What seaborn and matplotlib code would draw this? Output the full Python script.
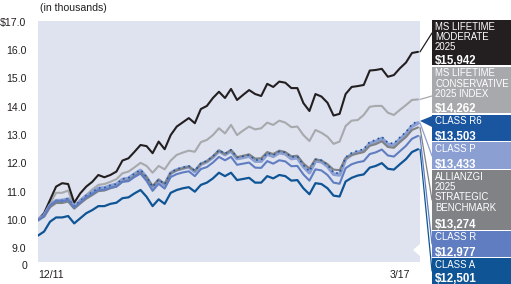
import matplotlib
matplotlib.use("Agg")
import matplotlib.pyplot as plt
import matplotlib.transforms as mtrans
import seaborn as sns
import pandas as pd
from matplotlib.patches import Rectangle, Polygon
from matplotlib.lines import Line2D

# ---------------- data (in thousands of $) ----------------
months = list(range(64))  # 12/11 ... 3/17, monthly
x_tick_labels = ["12/11", "3/17"]

ms_moderate = [10.00, 10.24, 10.71, 11.18, 11.30, 11.27, 10.61, 10.94, 11.18, 11.35,
               11.59, 11.51, 11.59, 11.71, 12.10, 12.18, 12.41, 12.65, 12.61, 12.36,
               12.77, 12.50, 13.00, 13.30, 13.45, 13.60, 13.42, 13.92, 14.03, 14.31,
               14.53, 14.31, 14.63, 14.24, 14.42, 14.59, 14.45, 14.38, 14.81, 14.70,
               14.89, 14.85, 14.66, 14.66, 14.13, 13.85, 14.45, 14.36, 14.14, 13.69,
               13.75, 14.45, 14.70, 14.73, 14.77, 15.28, 15.30, 15.34, 15.06, 15.12,
               15.36, 15.56, 15.90, 15.94]
ms_conservative = [10.00, 10.18, 10.59, 10.96, 10.96, 11.04, 10.45, 10.71, 10.88, 11.08,
                   11.24, 11.27, 11.35, 11.44, 11.65, 11.71, 11.86, 12.02, 11.91, 11.67,
                   11.91, 11.79, 12.10, 12.30, 12.38, 12.45, 12.41, 12.75, 12.83, 13.00,
                   13.24, 13.06, 13.36, 13.00, 13.16, 13.30, 13.20, 13.24, 13.44, 13.36,
                   13.51, 13.44, 13.28, 13.30, 13.00, 12.79, 13.18, 13.08, 12.94, 12.69,
                   12.77, 13.32, 13.51, 13.53, 13.71, 14.00, 14.03, 14.03, 13.79, 13.71,
                   13.89, 14.06, 14.24, 14.26]
class_r6 = [10.00, 10.15, 10.52, 10.68, 10.69, 10.75, 10.48, 10.67, 10.86, 10.98,
            11.13, 11.14, 11.22, 11.27, 11.45, 11.49, 11.64, 11.77, 11.52, 11.17,
            11.43, 11.26, 11.68, 11.80, 11.86, 11.91, 11.74, 12.00, 12.09, 12.25,
            12.47, 12.34, 12.48, 12.21, 12.25, 12.30, 12.12, 12.12, 12.37, 12.29,
            12.42, 12.39, 12.22, 12.25, 11.94, 11.72, 12.14, 12.11, 11.95, 11.67,
            11.65, 12.22, 12.37, 12.45, 12.50, 12.76, 12.83, 12.94, 12.73, 12.70,
            12.92, 13.11, 13.38, 13.50]
class_p = [10.00, 10.15, 10.52, 10.68, 10.69, 10.74, 10.47, 10.66, 10.85, 10.97,
           11.12, 11.13, 11.21, 11.26, 11.43, 11.47, 11.62, 11.75, 11.50, 11.15,
           11.41, 11.24, 11.66, 11.77, 11.83, 11.88, 11.71, 11.97, 12.06, 12.22,
           12.44, 12.31, 12.44, 12.17, 12.21, 12.26, 12.08, 12.08, 12.33, 12.25,
           12.38, 12.34, 12.17, 12.20, 11.89, 11.67, 12.09, 12.06, 11.90, 11.62,
           11.59, 12.16, 12.31, 12.39, 12.44, 12.70, 12.77, 12.88, 12.67, 12.64,
           12.85, 13.04, 13.31, 13.43]
benchmark = [10.00, 10.12, 10.45, 10.60, 10.60, 10.65, 10.40, 10.58, 10.75, 10.88,
             11.02, 11.04, 11.12, 11.18, 11.35, 11.40, 11.55, 11.68, 11.50, 11.20,
             11.42, 11.28, 11.65, 11.76, 11.82, 11.88, 11.74, 11.98, 12.07, 12.24,
             12.45, 12.33, 12.47, 12.22, 12.27, 12.32, 12.17, 12.18, 12.40, 12.33,
             12.45, 12.40, 12.25, 12.27, 12.00, 11.82, 12.15, 12.10, 11.97, 11.78,
             11.76, 12.18, 12.30, 12.35, 12.40, 12.62, 12.68, 12.78, 12.58, 12.55,
             12.75, 12.93, 13.18, 13.27]
class_r = [10.00, 10.14, 10.51, 10.67, 10.66, 10.71, 10.43, 10.62, 10.81, 10.92,
           11.06, 11.06, 11.14, 11.18, 11.35, 11.37, 11.52, 11.64, 11.38, 11.03,
           11.28, 11.11, 11.52, 11.62, 11.68, 11.72, 11.55, 11.80, 11.87, 12.03,
           12.23, 12.11, 12.23, 11.95, 11.99, 12.03, 11.85, 11.84, 12.08, 11.99,
           12.11, 12.07, 11.90, 11.91, 11.61, 11.39, 11.79, 11.75, 11.59, 11.32,
           11.28, 11.83, 11.97, 12.04, 12.08, 12.33, 12.39, 12.49, 12.28, 12.24,
           12.43, 12.62, 12.87, 12.97]
class_a = [9.45, 9.59, 9.94, 10.09, 10.09, 10.14, 9.88, 10.06, 10.24, 10.35,
           10.49, 10.49, 10.57, 10.61, 10.77, 10.80, 10.94, 11.06, 10.82, 10.49,
           10.73, 10.57, 10.96, 11.06, 11.12, 11.16, 11.00, 11.24, 11.32, 11.47,
           11.67, 11.55, 11.67, 11.41, 11.45, 11.49, 11.32, 11.32, 11.55, 11.47,
           11.59, 11.55, 11.39, 11.41, 11.12, 10.91, 11.30, 11.27, 11.12, 10.86,
           10.83, 11.36, 11.49, 11.57, 11.61, 11.85, 11.91, 12.01, 11.81, 11.78,
           11.97, 12.15, 12.40, 12.50]

y_ticks = [9, 10, 11, 12, 13, 14, 15, 16, 17]
y_tick_labels = ["9.0", "10.0", "11.0", "12.0", "13.0", "14.0", "15.0", "16.0", "$17.0"]

box_names = [["MS LIFETIME", "MODERATE", "2025"],
             ["MS LIFETIME", "CONSERVATIVE", "2025 INDEX"],
             ["CLASS R6"],
             ["CLASS P"],
             ["ALLIANZGI", "2025", "STRATEGIC", "BENCHMARK"],
             ["CLASS R"],
             ["CLASS A"]]
box_values = ["$15,942", "$14,262", "$13,503", "$13,433", "$13,274", "$12,977", "$12,501"]

# ---------------- styling ----------------
sns.set_theme(style="white")
plt.rcParams["font.family"] = ["Liberation Sans", "DejaVu Sans"]

C_BLACK = "#231f20"
C_LGRAY = "#a7a9ac"
C_R6 = "#1a56a0"
C_P = "#8c9fd3"
C_BENCH = "#808285"
C_R = "#5f7dc0"
C_A = "#0f5596"
BG = "#dfe3ef"
TXT = "#231f20"

W, H = 511, 284
fig = plt.figure(figsize=(W / 100, H / 100), dpi=100)
ax = fig.add_axes([38 / W, (H - 262) / H, (420 - 38) / W, (262 - 21) / H])
ax.set_facecolor(BG)

df = pd.DataFrame({"month": months})
series = [
    ("ms_conservative", ms_conservative, C_LGRAY, 1.5, "-"),
    ("ms_moderate", ms_moderate, C_BLACK, 1.5, "-"),
    ("class_p", class_p, C_P, 2.6, "-"),
    ("benchmark", benchmark, C_BENCH, 1.5, "-"),
    ("class_r6", class_r6, C_R6, 1.2, (0, (1, 2.2))),
    ("class_r", class_r, C_R, 1.5, "-"),
    ("class_a", class_a, C_A, 1.6, "-"),
]
for name, vals, col, lw, ls in series:
    df[name] = vals
    sns.lineplot(data=df, x="month", y=name, ax=ax, color=col, linewidth=lw,
                 linestyle=ls, legend=False)

ax.set_xlim(0, 63 * 382 / 380)
ax.set_ylim(8.516, 17.03)
ax.set_yticks(y_ticks)
ax.set_yticklabels(y_tick_labels)
ax.set_xticks([0, 63])
ax.set_xticklabels(x_tick_labels)
ax.set_xlabel("")
ax.set_ylabel("")
for s in ax.spines.values():
    s.set_visible(False)
ax.tick_params(axis="y", length=0, pad=8.5, labelsize=7.6, labelcolor=TXT)
ax.tick_params(axis="x", length=0, pad=6, labelsize=7.6, labelcolor=TXT)
xl = ax.get_xticklabels()
xl[0].set_ha("left")
xl[1].set_ha("right")
xl[1].set_transform(xl[1].get_transform() + mtrans.ScaledTranslation(-8 / 100, 0, fig.dpi_scale_trans))

def fx(px):
    return px / W

def fy(py):
    return 1 - py / H

# "0" label of the broken axis and the units note
fig.text(fx(27), fy(266), "0", ha="right", va="center", fontsize=7.6, color=TXT)
fig.text(fx(40), fy(8), "(in thousands)", ha="left", va="center", fontsize=7.6, color=TXT)

# ---------------- right-hand label boxes ----------------
boxes = [(20, 65, C_BLACK), (67, 113, C_LGRAY), (115, 141, C_R6), (142, 169, C_P),
         (170, 230, C_BENCH), (231, 257, C_R), (258, 284, C_A)]
for (top, bot, col), names, val in zip(boxes, box_names, box_values):
    fig.add_artist(Rectangle((fx(432), fy(bot)), fx(511) - fx(432), fy(top) - fy(bot),
                             transform=fig.transFigure, facecolor=col, edgecolor="none",
                             clip_on=False))
    for k, nm in enumerate(names):
        fig.text(fx(435), fy(top + 9.5 + 10.5 * k), nm, ha="left", va="baseline",
                 fontsize=6.9, color="white")
    fig.text(fx(435), fy(bot - 1.5), val, ha="left", va="baseline",
             fontsize=8.3, fontweight="bold", color="white")

# ---------------- connectors ----------------
def end_px(vals):
    xd, yd = ax.transData.transform((months[-1], vals[-1]))
    return xd + 2, H - yd

conn = [(ms_moderate, C_BLACK, 33), (ms_conservative, C_LGRAY, 96),
        (class_p, C_P, 156), (benchmark, C_BENCH, 200), (class_r, C_R, 244),
        (class_a, C_A, 271)]
fig.canvas.draw()
for vals, col, ty in conn:
    sx, sy = end_px(vals)
    fig.add_artist(Line2D([fx(sx), fx(432)], [fy(sy), fy(ty)], transform=fig.transFigure,
                          color=col, linewidth=0.9))
sx, sy = end_px(class_r6)
fig.add_artist(Polygon([(fx(sx), fy(sy)), (fx(432), fy(116)), (fx(432), fy(127))],
                       closed=True, transform=fig.transFigure, facecolor=C_R6,
                       edgecolor="none"))
# small white pointer near the bottom right of the plot
fig.add_artist(Polygon([(fx(413), fy(250)), (fx(421), fy(243)), (fx(421), fy(257))],
                       closed=True, transform=fig.transFigure, facecolor="white",
                       edgecolor="none"))

fig.savefig("out.png", dpi=100)
